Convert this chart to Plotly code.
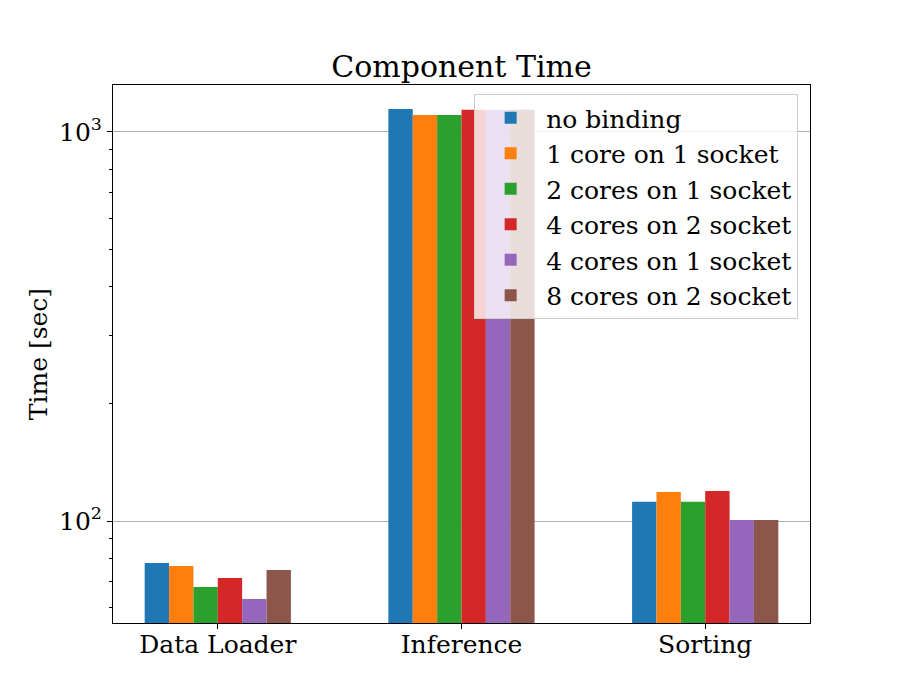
import plotly.graph_objects as go
import numpy as np

categories = ["Data Loader", "Inference", "Sorting"]
series_names = ["no binding", "1 core on 1 socket", "2 cores on 1 socket",
                "4 cores on 2 socket", "4 cores on 1 socket", "8 cores on 2 socket"]
no_binding = [78.0, 1146, 112.0]
one_core_1s = [76.6, 1106, 118.7]
two_cores_1s = [67.7, 1106, 112.0]
four_cores_2s = [71.4, 1140, 119.4]
four_cores_1s = [63.0, 1140, 100.6]
eight_cores_2s = [74.8, 1140, 100.6]
colors = ["#1f77b4", "#ff7f0e", "#2ca02c", "#d62728", "#9467bd", "#8c564b"]

series_values = [no_binding, one_core_1s, two_cores_1s, four_cores_2s, four_cores_1s, eight_cores_2s]

font_family = "DejaVu Serif"
fig = go.Figure()
for name, vals, c in zip(series_names, series_values, colors):
    fig.add_trace(go.Bar(x=[0, 1, 2], y=vals, name=name, marker=dict(color=c, line=dict(width=0))))

minor_vals = [v * 10 ** e for e in (1, 2, 3) for v in range(2, 10)]

fig.update_layout(
    width=900, height=700,
    margin=dict(l=113, r=90, t=85, b=77),
    paper_bgcolor="white", plot_bgcolor="white",
    font=dict(family=font_family, size=25, color="black"),
    barmode="group", bargap=0.4, bargroupgap=0,
    title=dict(text="Component Time", x=(113 + 810) / 2 / 900, xanchor="center",
               y=1 - 66 / 700, yanchor="middle", yref="container",
               font=dict(family=font_family, size=30, color="black")),
    legend=dict(x=0.983, y=(623 - 94) / 538, xanchor="right", yanchor="top",
                bgcolor="rgba(255,255,255,0.8)", bordercolor="#cccccc", borderwidth=1,
                font=dict(family=font_family, size=25, color="black"),
                tracegroupgap=0, itemwidth=61),
    showlegend=True,
)
fig.update_xaxes(
    range=[-0.43, 2.43], tickvals=[0, 1, 2], ticktext=categories,
    showline=True, linecolor="black", linewidth=1, mirror=True,
    ticks="outside", ticklen=5, tickcolor="black", showgrid=False, zeroline=False,
    automargin=False, ticklabelstandoff=-6,
    tickfont=dict(family=font_family, size=25, color="black"),
)
fig.update_yaxes(
    type="log", range=[1.7378, 3.1208],
    tickvals=[100, 1000], ticktext=["10<sup>2</sup>", "10<sup>3</sup>"],
    showline=True, linecolor="black", linewidth=1, mirror=True,
    ticks="outside", ticklen=5, tickcolor="black",
    showgrid=True, gridcolor="#b0b0b0", gridwidth=1, zeroline=False,
    layer="above traces", automargin=False,
    minor=dict(tickvals=minor_vals, ticks="outside", ticklen=3, tickcolor="black", showgrid=False),
    title=dict(text="Time [sec]", font=dict(family=font_family, size=25, color="black"), standoff=4),
    tickfont=dict(family=font_family, size=25, color="black"),
)

fig.write_html("out.html", config={"displayModeBar": False},
               post_script="document.body.style.margin='0';document.body.style.padding='0';")
